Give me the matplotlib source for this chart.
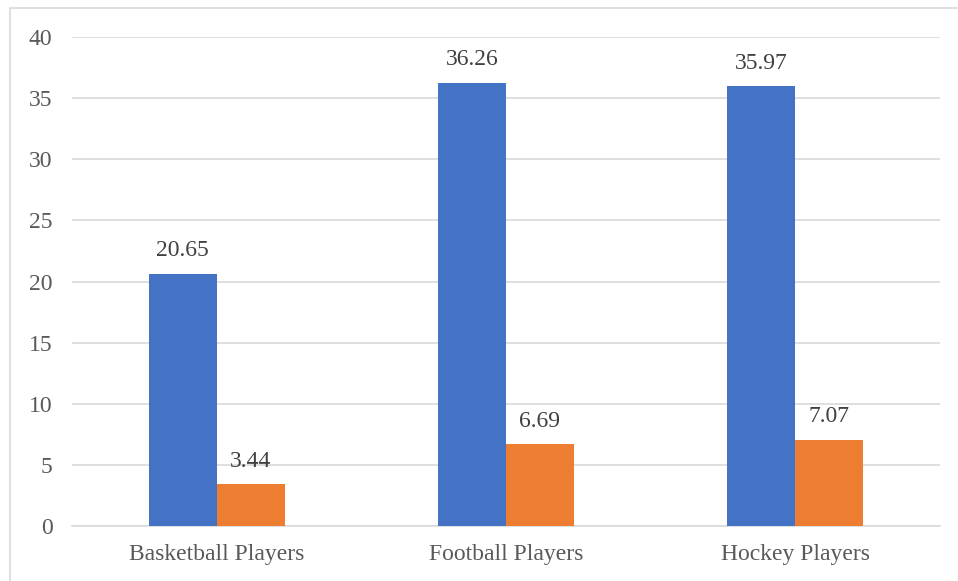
import matplotlib.pyplot as plt
import numpy as np
from matplotlib.patches import Rectangle

# values per group
categories = ['Basketball Players', 'Football Players', 'Hockey Players']
series_a = [20.65, 36.26, 35.97]
series_b = [3.44, 6.69, 7.07]

blue = '#4472C4'
orange = '#ED7D31'

plt.rcParams['font.family'] = 'Liberation Serif'

fig = plt.figure(figsize=(9.58, 5.81), dpi=100)
ax = fig.add_axes([72 / 958, 55 / 581, 868 / 958, 489 / 581])

x = np.arange(len(categories))
w = 0.235
bars_a = ax.bar(x - w / 2, series_a, w, color=blue, zorder=3)
bars_b = ax.bar(x + w / 2, series_b, w, color=orange, zorder=3)

for bars, vals in [(bars_a, series_a), (bars_b, series_b)]:
    for b, v in zip(bars, vals):
        ax.text(b.get_x() + b.get_width() / 2, v + 1.0, f'{v:.2f}',
                ha='center', va='bottom', fontsize=17, color='#404040')

ax.set_xlim(-0.5, 2.5)
ax.set_ylim(0, 40)
ax.set_yticks(range(0, 41, 5))
ax.set_xticks(x)
ax.set_xticklabels(categories)
ax.grid(axis='y', color='#D9D9D9', linewidth=1.2, zorder=0)
ax.tick_params(axis='both', length=0, labelsize=17, labelcolor='#595959')
ax.tick_params(axis='y', pad=14)
ax.tick_params(axis='x', pad=13)
for s in ['top', 'right', 'left']:
    ax.spines[s].set_visible(False)
ax.spines['bottom'].set_color('#D9D9D9')
ax.spines['bottom'].set_linewidth(1.2)

# outer frame
fig.patches.append(Rectangle((10 / 958, -0.1), 1.0, 1.1 - 8 / 581,
                             transform=fig.transFigure, fill=False,
                             edgecolor='#D9D9D9', linewidth=1.2))

fig.savefig('out.png', dpi=100)
